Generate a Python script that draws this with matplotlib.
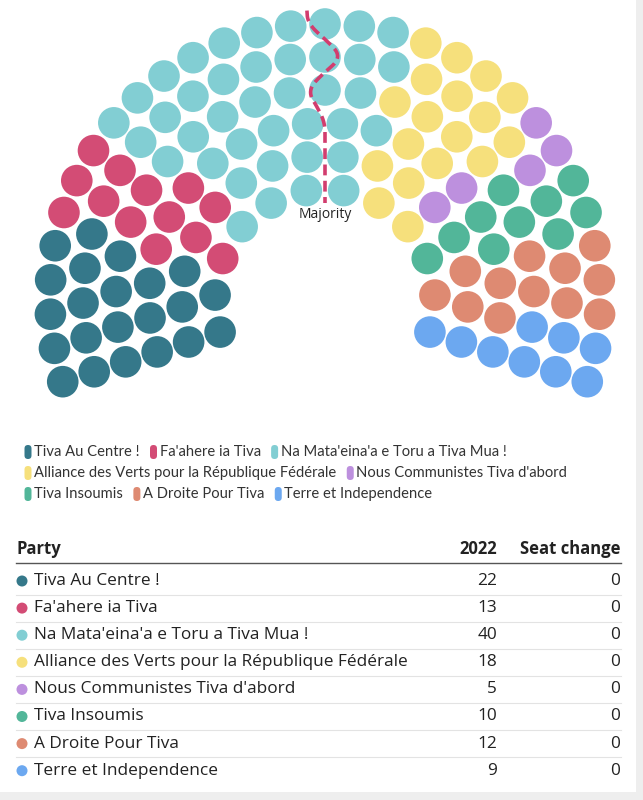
import numpy as np
import matplotlib
matplotlib.use("Agg")
import matplotlib.pyplot as plt
from matplotlib.patches import Circle, FancyBboxPatch

parties = ["Tiva Au Centre !", "Fa'ahere ia Tiva", "Na Mata'eina'a e Toru a Tiva Mua !",
           "Alliance des Verts pour la République Fédérale", "Nous Communistes Tiva d'abord",
           "Tiva Insoumis", "A Droite Pour Tiva", "Terre et Independence"]
seats = [22, 13, 40, 18, 5, 10, 12, 9]
changes = [0, 0, 0, 0, 0, 0, 0, 0]
colors = ["#35788a", "#d34c75", "#82ced3", "#f6e07c", "#bd90de", "#52b699", "#de8a72", "#6ca8f0"]
legend_rows = [[0, 1, 2], [3, 4], [5, 6, 7]]

plt.rcParams['font.family'] = ['Open Sans', 'DejaVu Sans']
fig = plt.figure(figsize=(6.43, 8), dpi=100)
ax = fig.add_axes([0, 0, 1, 1])
ax.set_xlim(0, 643); ax.set_ylim(800, 0); ax.axis('off')

# hemicycle
cx, cy = 325, 299
radii = [110 + 33 * i for i in range(6)]
total = sum(seats)
span0, span1 = np.deg2rad(-17.5), np.deg2rad(197.5)
w = np.array(radii) / sum(radii) * total
per = np.floor(w).astype(int)
rem = total - per.sum()
for i in np.argsort(-(w - per))[:rem]:
    per[i] += 1
pts = []
for r, n in zip(radii, per):
    for a in np.linspace(span1, span0, n):
        pts.append((a, r))
pts.sort(key=lambda p: (-p[0], p[1]))
owner = np.repeat(np.arange(len(seats)), seats)
for (a, r), o in zip(pts, owner):
    ax.add_patch(Circle((cx + r * np.cos(a), cy - r * np.sin(a)), 15.8, color=colors[o], lw=0))

# majority line (smooth through row boundaries)
maj = total // 2 + 1
left = set(range(maj - 1))
rr, aa = [], []
for r in radii[::-1]:
    row = [(k, p[0]) for k, p in enumerate(pts) if p[1] == r]
    la = min(a for k, a in row if k in left)
    ra = max(a for k, a in row if k not in left)
    rr.append(r); aa.append((la + ra) / 2)
rr = [rr[0] + 14] + rr + [rr[-1] - 14]
aa = [aa[0]] + aa + [aa[-1]]
t = np.linspace(rr[0], rr[-1], 200)
af = np.interp(-t, -np.array(rr), np.array(aa))
k = 9
af = np.convolve(np.pad(af, k, mode='edge'), np.ones(2 * k + 1) / (2 * k + 1), mode='valid')
ax.plot(cx + t * np.cos(af), cy - t * np.sin(af), color="#d23d6e", lw=2.6, ls=(0, (3, 1.5)))
ax.text(cx + t[-1] * np.cos(af[-1]), cy - t[-1] * np.sin(af[-1]) + 4, "Majority",
        ha='center', va='top', fontsize=10, color='#222')

# legend (items flow left to right)
fig.canvas.draw()
rend = fig.canvas.get_renderer()
for ri, row in enumerate(legend_rows):
    y = 452 + 21 * ri
    x = 28
    for i in row:
        ax.add_patch(FancyBboxPatch((x - 3.5, y - 7), 7, 14, boxstyle="round,pad=0,rounding_size=3.5",
                                    color=colors[i], lw=0))
        txt = ax.text(x + 6, y, parties[i], va='center', ha='left', fontsize=10.6,
                      color='#333', family=['Lato', 'DejaVu Sans'])
        x = txt.get_window_extent(rend).x1 + 14

# table
ax.text(16, 549, "Party", fontsize=12, fontweight='bold', va='center', color='#222')
ax.text(497, 549, "2022", fontsize=12, fontweight='bold', va='center', ha='right', color='#222')
ax.text(620, 549, "Seat change", fontsize=12, fontweight='bold', va='center', ha='right', color='#222')
ax.plot([16, 621], [563, 563], color='#555', lw=1)
for i, (p, s, c) in enumerate(zip(parties, seats, changes)):
    y = 581 + 27.1 * i
    ax.add_patch(Circle((22, y), 5.5, color=colors[i], lw=0))
    ax.text(34, y, p, fontsize=12.4, va='center', color='#222')
    ax.text(497, y, str(s), fontsize=12.4, va='center', ha='right', color='#222')
    ax.text(620, y, str(c), fontsize=12.4, va='center', ha='right', color='#222')
    if i < len(parties) - 1:
        ax.plot([16, 621], [y + 13.5, y + 13.5], color='#e3e3e3', lw=0.8)
ax.add_patch(plt.Rectangle((0, 792), 643, 8, color='#eeeeee', lw=0))
ax.add_patch(plt.Rectangle((636, 0), 7, 800, color='#eeeeee', lw=0))

fig.savefig("out.png", dpi=100)
